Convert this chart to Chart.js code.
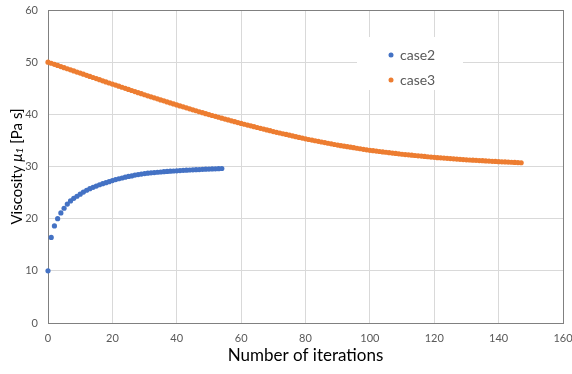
<!DOCTYPE html>
<html>
<head>
<meta charset="utf-8">
<script src="https://cdn.jsdelivr.net/npm/chart.js@4"></script>
<style>
  body { margin: 0; background: #fff; }
  #wrap { width: 572px; height: 374px; }
</style>
</head>
<body>
<div id="wrap"><canvas id="viscChart"></canvas></div>
<script>
const xTicks = [0, 20, 40, 60, 80, 100, 120, 140, 160];
const yTicks = [0, 10, 20, 30, 40, 50, 60];

const case2 = [
    10.0, 16.4, 18.6, 20.0, 21.1, 22.0, 22.8, 23.4, 23.9, 24.3, 24.7,
    25.1, 25.45, 25.75, 26.0, 26.25, 26.5, 26.7, 26.9, 27.1, 27.3,
    27.5, 27.65, 27.8, 27.95, 28.1, 28.2, 28.35, 28.45, 28.55, 28.65,
    28.72, 28.78, 28.84, 28.9, 28.95, 29.0, 29.05, 29.1, 29.14, 29.18,
    29.22, 29.26, 29.3, 29.33, 29.36, 29.39, 29.42, 29.45, 29.48, 29.5,
    29.53, 29.56, 29.59, 29.62
];

const case3 = [
    50.00, 49.79, 49.58, 49.37, 49.16, 48.95, 48.74, 48.53, 48.32, 48.11, 47.90,
    47.69, 47.48, 47.27, 47.06, 46.85, 46.64, 46.43, 46.22, 46.01, 45.80,
    45.60, 45.39, 45.19, 44.98, 44.78, 44.57, 44.37, 44.16, 43.96, 43.75,
    43.55, 43.36, 43.16, 42.97, 42.77, 42.58, 42.38, 42.19, 41.99, 41.80,
    41.61, 41.43, 41.24, 41.06, 40.87, 40.69, 40.50, 40.32, 40.13, 39.95,
    39.78, 39.61, 39.44, 39.27, 39.10, 38.93, 38.76, 38.59, 38.42, 38.25,
    38.10, 37.94, 37.79, 37.63, 37.48, 37.32, 37.17, 37.01, 36.86, 36.70,
    36.56, 36.42, 36.28, 36.14, 36.00, 35.86, 35.72, 35.58, 35.44, 35.30,
    35.18, 35.06, 34.94, 34.82, 34.70, 34.58, 34.46, 34.34, 34.22, 34.10,
    34.00, 33.90, 33.80, 33.70, 33.60, 33.50, 33.40, 33.30, 33.20, 33.10,
    33.03, 32.95, 32.88, 32.80, 32.73, 32.65, 32.58, 32.50, 32.43, 32.35,
    32.29, 32.23, 32.17, 32.11, 32.05, 31.99, 31.93, 31.87, 31.81, 31.75,
    31.70, 31.66, 31.61, 31.56, 31.52, 31.47, 31.42, 31.38, 31.33, 31.28,
    31.25, 31.21, 31.18, 31.14, 31.11, 31.07, 31.04, 31.00, 30.97, 30.93,
    30.90, 30.87, 30.84, 30.81, 30.78, 30.75, 30.72
];

const seriesNames = ["case2", "case3"];
const seriesColors = ["#4472C4", "#ED7D31"];

const FONT = "Lato, 'Open Sans', sans-serif";
const GREY = "#595959";

// iteration number = position in the array
function toPoints(arr) {
    return arr.map((v, i) => ({ x: i, y: v }));
}

// box border under the points, axis titles (mixed italic) and legend box on top
const extras = {
    id: "extras",
    beforeDatasetsDraw(chart) {
        const ctx = chart.ctx;
        const a = chart.chartArea;
        ctx.save();
        ctx.strokeStyle = "#808080";
        ctx.lineWidth = 1;
        ctx.strokeRect(a.left + 0.5, a.top + 0.5, a.right - a.left, a.bottom - a.top);
        ctx.restore();
    },
    afterDraw(chart) {
        const ctx = chart.ctx;
        const a = chart.chartArea;
        ctx.save();

        // x title
        ctx.fillStyle = "#000";
        ctx.font = "17px " + FONT;
        ctx.textAlign = "center";
        ctx.textBaseline = "middle";
        ctx.fillText("Number of iterations", (a.left + a.right) / 2, 356);

        // y title
        const parts = [
            { t: "Viscosity ", f: "15px " + FONT, dy: 0 },
            { t: "μ", f: "italic 15px " + FONT, dy: 0 },
            { t: "1", f: "italic 10px " + FONT, dy: 3 },
            { t: " [Pa s]", f: "15px " + FONT, dy: 0 }
        ];
        let total = 0;
        parts.forEach(p => { ctx.font = p.f; p.w = ctx.measureText(p.t).width; total += p.w; });
        ctx.translate(17, (a.top + a.bottom) / 2);
        ctx.rotate(-Math.PI / 2);
        ctx.textAlign = "left";
        let px = -total / 2;
        parts.forEach(p => {
            ctx.font = p.f;
            ctx.fillText(p.t, px, p.dy);
            px += p.w;
        });
        ctx.setTransform(1, 0, 0, 1, 0, 0);

        // legend
        ctx.fillStyle = "#fff";
        ctx.fillRect(357, 37, 106, 53);
        ctx.font = "14px " + FONT;
        ctx.textAlign = "left";
        ctx.textBaseline = "middle";
        seriesNames.forEach((name, i) => {
            const y = 55 + i * 25;
            ctx.fillStyle = seriesColors[i];
            ctx.beginPath();
            ctx.arc(391, y, 2.5, 0, Math.PI * 2);
            ctx.fill();
            ctx.fillStyle = GREY;
            ctx.fillText(name, 400, y);
        });
        ctx.restore();
    }
};

new Chart(document.getElementById("viscChart"), {
    type: "scatter",
    data: {
        datasets: [
            { label: seriesNames[0], data: toPoints(case2) },
            { label: seriesNames[1], data: toPoints(case3) }
        ].map((d, i) => Object.assign(d, {
            backgroundColor: seriesColors[i],
            borderWidth: 0,
            pointRadius: 2.6,
            pointHoverRadius: 2.6,
            showLine: false,
            clip: false
        }))
    },
    options: {
        responsive: true,
        maintainAspectRatio: false,
        animation: false,
        layout: { padding: 0 },
        plugins: {
            legend: { display: false },
            tooltip: { enabled: false }
        },
        scales: {
            x: {
                type: "linear",
                min: xTicks[0],
                max: xTicks[xTicks.length - 1],
                afterBuildTicks: s => { s.ticks = xTicks.map(v => ({ value: v })); },
                afterFit: s => { s.height = 51; s.paddingLeft = 0; s.paddingRight = 9; },
                grid: { color: "#d9d9d9", drawTicks: false },
                border: { display: false },
                ticks: { color: GREY, font: { family: FONT, size: 11 }, padding: 9 }
            },
            y: {
                min: yTicks[0],
                max: yTicks[yTicks.length - 1],
                afterBuildTicks: s => { s.ticks = yTicks.map(v => ({ value: v })); },
                afterFit: s => { s.width = 48; s.paddingTop = 10; s.paddingBottom = 0; },
                grid: { color: "#d9d9d9", drawTicks: false },
                border: { display: false },
                ticks: { color: GREY, font: { family: FONT, size: 11 }, padding: 10 }
            }
        }
    },
    plugins: [extras]
});
</script>
</body>
</html>
